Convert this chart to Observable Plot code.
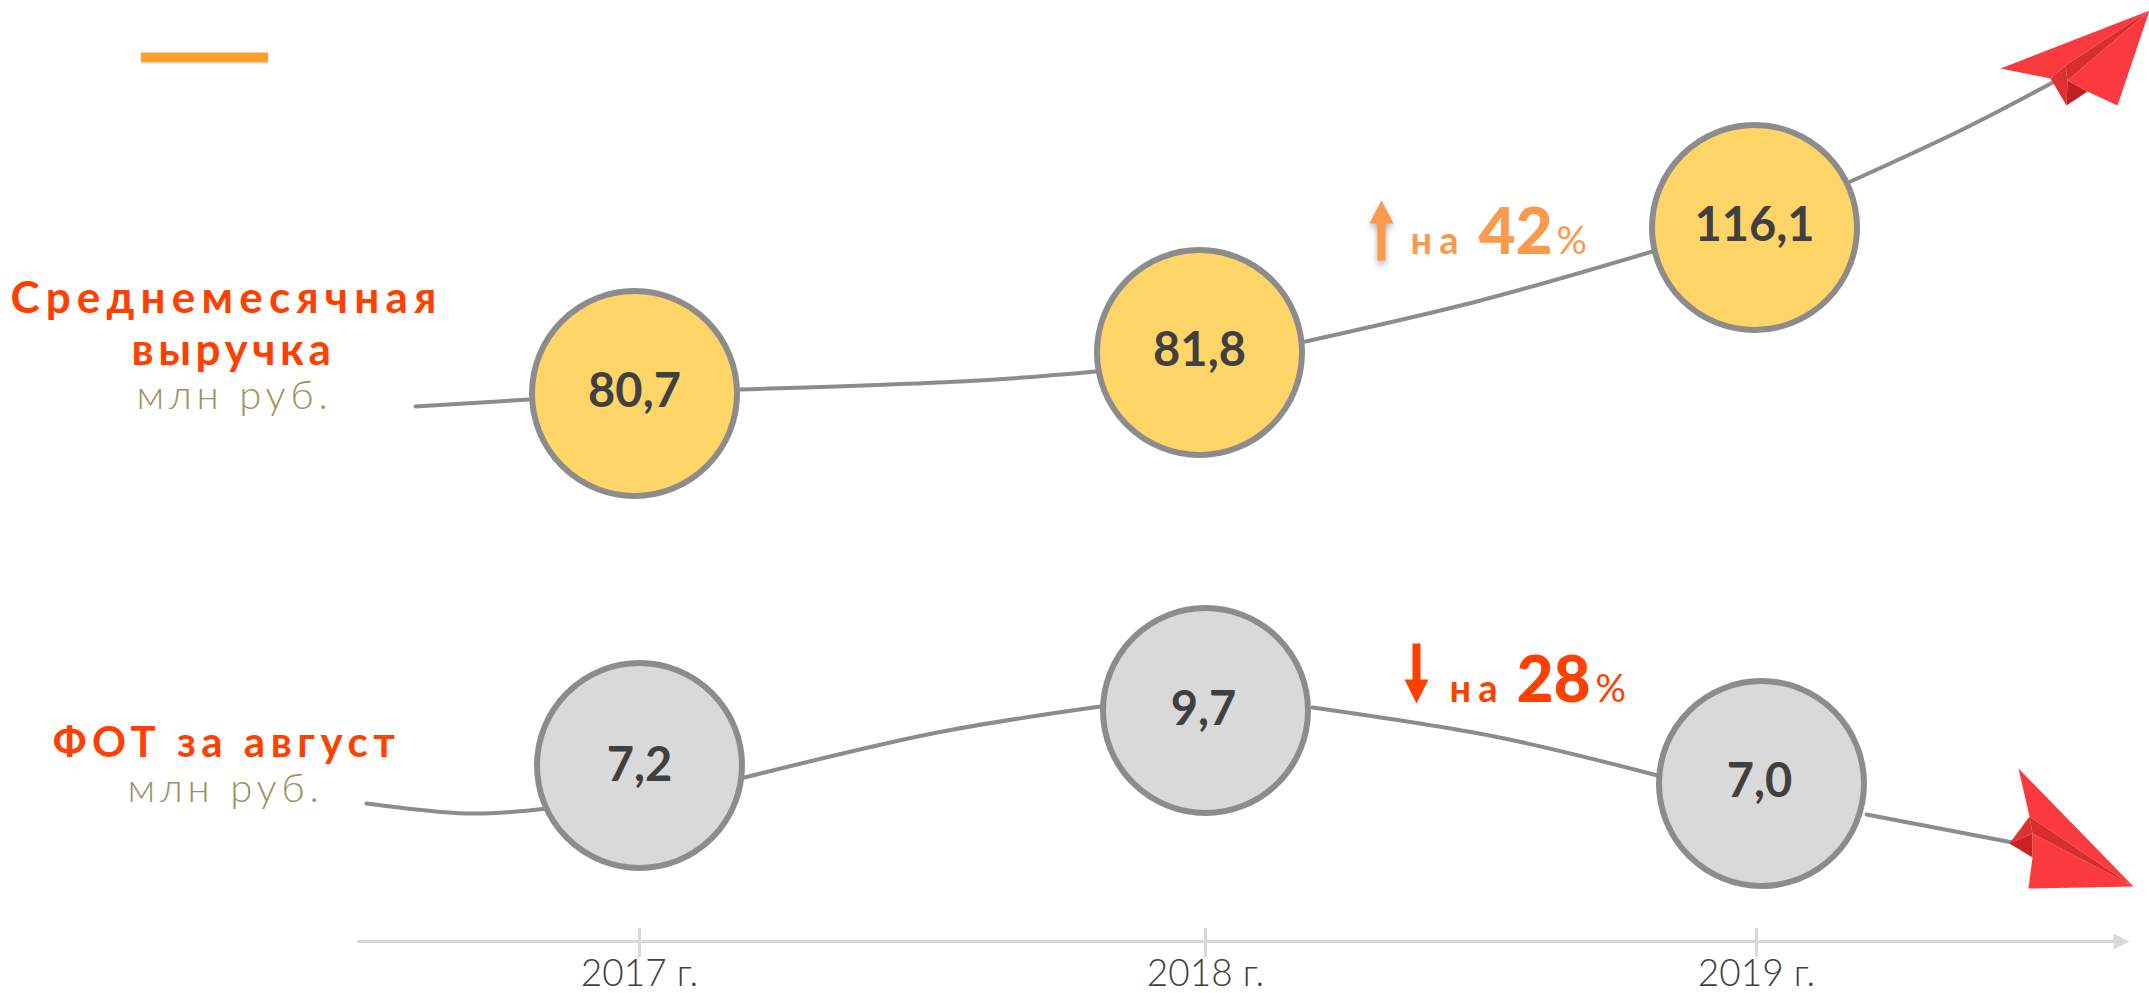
<!DOCTYPE html>
<html><head><meta charset="utf-8">
<script src="https://cdn.jsdelivr.net/npm/d3@7"></script>
<script src="https://cdn.jsdelivr.net/npm/@observablehq/plot@0.6"></script>
<style>html,body{margin:0;padding:0;background:#fff;overflow:hidden}svg{display:block}</style>
</head><body><div id="chart"></div>
<script>
// values
const years = ["2017 г.", "2018 г.", "2019 г."];
const revenue = [80.7, 81.8, 116.1];
const payroll = [7.2, 9.7, 7.0];
const revenueChange = "42";
const payrollChange = "28";

// layout (the chart is a schematic: heights do not follow the values)
const tickX = [639, 1205, 1756];
const revenueX = [634, 1199, 1754];
const revenueY = [393, 352, 227];
const payrollX = [639, 1205, 1761];
const payrollY = [765, 710, 783];
const payrollTextDy = [15, 14, 13];

const fmt = v => v.toFixed(1).replace(".", ",");
const pts = (z, a) => a.map(([x, y]) => ({x, y, z}));
const curves = [
  ...pts("a", [[415,406],[528,399]]),
  ...pts("b", [[738,389],[960,381],[1095,371]]),
  ...pts("c", [[1305,341],[1480,300],[1652,251]]),
  ...pts("d", [[1850,181],[1960,130],[2056,80]]),
  ...pts("e", [[366,803],[466,813],[546,808]]),
  ...pts("f", [[744,777],[932,733],[1100,706]]),
  ...pts("g", [[1312,707],[1494,736],[1657,775]]),
  ...pts("h", [[1866,814],[2012,842]])
];
const topPlane = [
  ["#fb3a40", [[2149,10],[2000,68],[2050,78],[2065,65]]],
  ["#fb3a40", [[2149,10],[2067,80],[2087,91],[2117,105]]],
  ["#d92c2f", [[2149,10],[2065,65],[2067,80]]],
  ["#e0302f", [[2050,78],[2065,65],[2067,80],[2066,105]]],
  ["#c02024", [[2067,80],[2066,105],[2087,91]]]
];
const lowPlane = [
  ["#fb3a40", [[2018,768],[2133,886],[2029,816]]],
  ["#fb3a40", [[2032,833],[2133,886],[2028,888],[2032,857]]],
  ["#d92c2f", [[2029,816],[2133,886],[2032,833]]],
  ["#e0302f", [[2009,843],[2029,816],[2032,833]]],
  ["#c92226", [[2009,843],[2032,833],[2032,857]]]
];
const poly = (list, tag) => list.flatMap(([c, p], i) => p.map(([x, y]) => ({x, y, c, z: tag + i})));
const planes = [...poly(topPlane, "t"), ...poly(lowPlane, "l")];

const axisHead = [{x:2113,y:933},{x:2129,y:941},{x:2113,y:949}];
const upArrow = [[1377,260],[1377,223],[1369,223],[1381,200],[1393,223],[1385,223],[1385,260]].map(([x,y])=>({x,y}));
const downArrow = [[1412,643],[1412,679],[1404,679],[1416,703],[1428,679],[1420,679],[1420,643]].map(([x,y])=>({x,y}));

const labels = [
  {x:226,y:312,t:"Среднемесячная",s:44,w:700,c:"#ff4000",ls:6.2},
  {x:233,y:364,t:"выручка",s:44,w:700,c:"#ff4000",ls:4.6},
  {x:234,y:408,t:"млн руб.",s:40,w:300,c:"#9b9263",ls:4.8},
  {x:226,y:756,t:"ФОТ за август",s:42,w:700,c:"#ff4000",ls:5.5},
  {x:225,y:801,t:"млн руб.",s:40,w:300,c:"#9b9263",ls:4.8}
];
const delta = [
  {x:1410,y:253,t:"на",s:38,w:700,c:"#fa9a4a",ls:7},
  {x:1478,y:253,t:revenueChange,s:64,w:900,c:"#fa9a4a",ls:0},
  {x:1556,y:253,t:"%",s:38,w:400,c:"#fa9a4a",ls:0},
  {x:1449,y:701,t:"на",s:38,w:700,c:"#ff4000",ls:7},
  {x:1516,y:701,t:payrollChange,s:64,w:900,c:"#ff4000",ls:0},
  {x:1595,y:701,t:"%",s:38,w:400,c:"#ff4000",ls:0}
];
const textGroup = (rows, extra) => [...new Set(rows.map(d => d.s + "|" + d.w))].map(key => {
  const r = rows.filter(d => d.s + "|" + d.w === key);
  return Plot.text(r, {x:"x", y:"y", text:"t", fill:"c", fontSize:r[0].s, fontWeight:r[0].w, lineAnchor:"bottom", ...extra});
});

const chart = Plot.plot({
  width:2149, height:993, margin:0,
  style:{background:"#fff", fontFamily:"Lato"},
  x:{type:"linear", domain:[0,2149], range:[0,2149], axis:null},
  y:{type:"linear", domain:[0,993], range:[0,993], axis:null},
  color:{type:"identity"},
  marks:[
    Plot.ruleY([57],{x1:141,x2:268,stroke:"#ff9e2c",strokeWidth:10}),
    // axis
    Plot.ruleY([941],{x1:357,x2:2115,stroke:"#d9d9d9",strokeWidth:3}),
    Plot.line(axisHead,{x:"x",y:"y",fill:"#d9d9d9",stroke:"none"}),
    Plot.ruleX(tickX,{y1:928,y2:957,stroke:"#d9d9d9",strokeWidth:3}),
    Plot.text(years,{x:(d,i)=>tickX[i],y:()=>985,text:d=>d,fontSize:37,fontWeight:300,fill:"#404040",lineAnchor:"bottom"}),
    // lines
    Plot.line(curves,{x:"x",y:"y",z:"z",stroke:"#8c8c8c",strokeWidth:4,curve:"natural"}),
    // circles
    Plot.dot(revenue,{x:(d,i)=>revenueX[i],y:(d,i)=>revenueY[i],r:102.5,fill:"#ffd568",stroke:"#8c8c8c",strokeWidth:6}),
    Plot.dot(payroll,{x:(d,i)=>payrollX[i],y:(d,i)=>payrollY[i],r:102.5,fill:"#d9d9d9",stroke:"#8c8c8c",strokeWidth:6}),
    Plot.text(revenue,{x:(d,i)=>revenueX[i],y:(d,i)=>revenueY[i]+13,text:fmt,fontSize:47,fontWeight:700,fill:"#404040",lineAnchor:"bottom"}),
    Plot.text(payroll,{x:(d,i)=>payrollX[i]-(i==0?0:2),y:(d,i)=>payrollY[i]+payrollTextDy[i],text:fmt,fontSize:47,fontWeight:700,fill:"#404040",lineAnchor:"bottom"}),
    // planes
    Plot.line(planes,{x:"x",y:"y",z:"z",fill:"c",stroke:"none",curve:"linear"}),
    // arrows
    Plot.line(upArrow,{x:"x",y:"y",fill:"#fa9a4a",stroke:"none"}),
    Plot.line(downArrow,{x:"x",y:"y",fill:"#ff4000",stroke:"none"}),
    // labels
    ...textGroup(labels,{textAnchor:"middle"}),
    ...textGroup(delta,{textAnchor:"start"})
  ]
});
const rows = [...labels, ...delta];
d3.select(chart).selectAll("text").each(function(){
  const row = rows.find(d => d.t === this.textContent);
  if (row && row.ls) this.style.letterSpacing = row.ls + "px";
});
document.getElementById("chart").append(chart);
d3.select(chart).selectAll("path").filter(function(){
  return (this.getAttribute("fill") || this.parentNode.getAttribute("fill")) === "#fa9a4a";
}).style("filter","drop-shadow(0 4px 3px rgba(0,0,0,.3))");
</script></body></html>
